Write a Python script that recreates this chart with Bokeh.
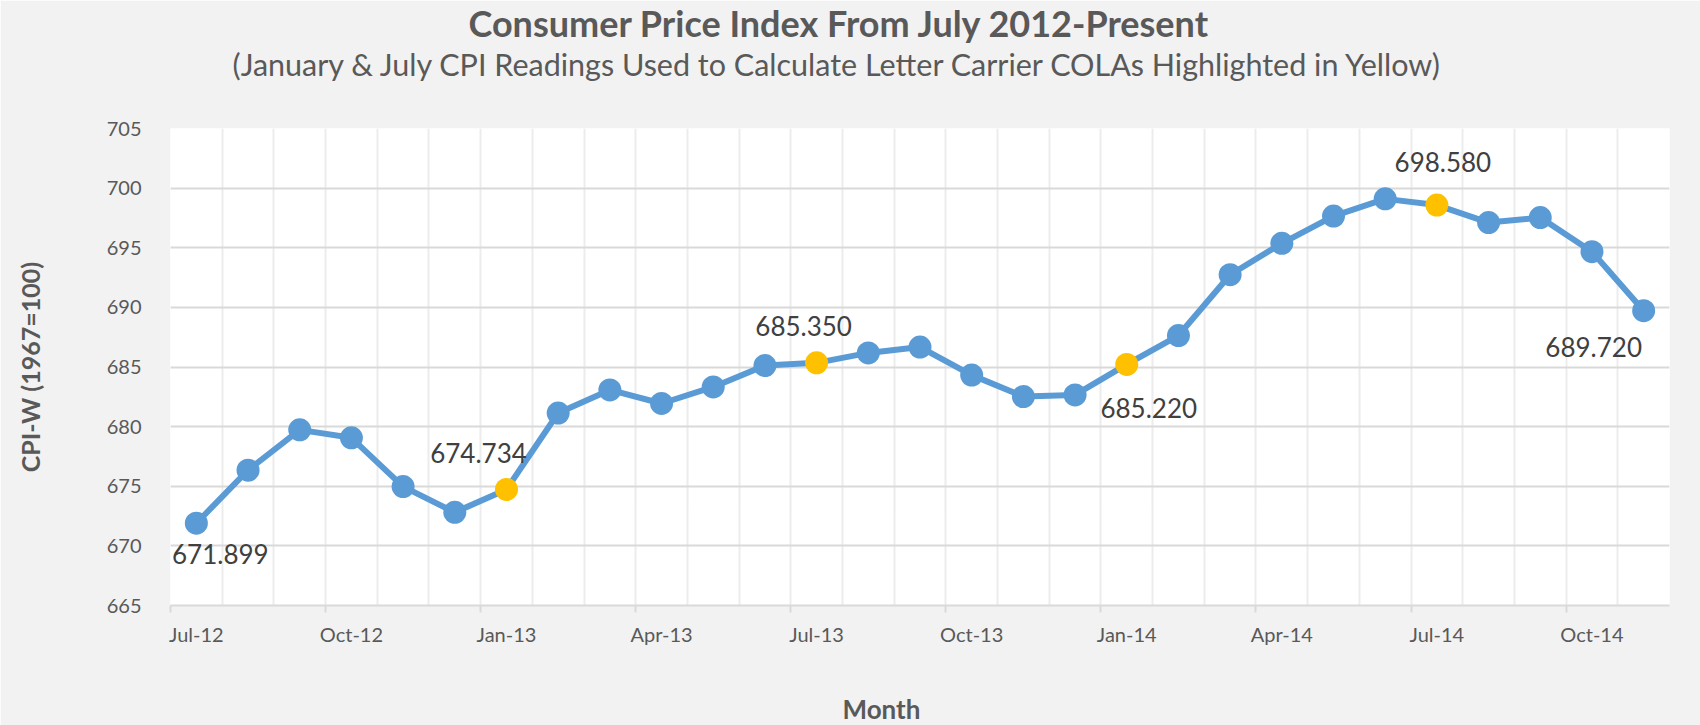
from bokeh.plotting import figure
from bokeh.models import ColumnDataSource, FixedTicker, Range1d, Title
from bokeh.core.properties import value
from bokeh.embed import file_html
from bokeh.resources import INLINE

# ---------------- data ----------------
months = ["Jul-12", "Aug-12", "Sep-12", "Oct-12", "Nov-12", "Dec-12",
          "Jan-13", "Feb-13", "Mar-13", "Apr-13", "May-13", "Jun-13",
          "Jul-13", "Aug-13", "Sep-13", "Oct-13", "Nov-13", "Dec-13",
          "Jan-14", "Feb-14", "Mar-14", "Apr-14", "May-14", "Jun-14",
          "Jul-14", "Aug-14", "Sep-14", "Oct-14", "Nov-14"]
cpi = [671.899, 676.35, 679.73, 679.06, 674.97, 672.81,
       674.734, 681.14, 683.08, 681.94, 683.33, 685.12,
       685.350, 686.18, 686.67, 684.32, 682.52, 682.66,
       685.220, 687.64, 692.74, 695.37, 697.66, 699.10,
       698.580, 697.11, 697.53, 694.67, 689.720]
tick_months = ["Jul-12", "Oct-12", "Jan-13", "Apr-13", "Jul-13",
               "Oct-13", "Jan-14", "Apr-14", "Jul-14", "Oct-14"]
y_ticks = [665, 670, 675, 680, 685, 690, 695, 700, 705]
highlight_months = ["Jan-13", "Jul-13", "Jan-14", "Jul-14"]
labeled_months = ["Jul-12", "Jan-13", "Jul-13", "Jan-14", "Jul-14", "Nov-14"]

title_text = "Consumer Price Index From July 2012-Present"
subtitle_text = "(January & July CPI Readings Used to Calculate Letter Carrier COLAs Highlighted in Yellow)"
y_title = "CPI-W (1967=100)"
x_title = "Month"

# ---------------- style ----------------
BLUE = "#5b9bd5"
YELLOW = "#ffc000"
GREY_TXT = "#595959"
LABEL_TXT = "#404040"
FONT = "Lato"
W, H = 1700, 725
ML, MR, MT, MB = 170, 31, 128, 115
# data-label offsets in screen pixels (dx right, dy down)
label_offsets = {"Jul-12": (24, 31), "Jan-13": (-28, -36), "Jul-13": (-13, -37),
                 "Jan-14": (22, 44), "Jul-14": (6, -43), "Nov-14": (-50, 36)}

n = len(months)
xc = [i + 0.5 for i in range(n)]
colors = [YELLOW if m in highlight_months else BLUE for m in months]

p = figure(width=W, height=H, output_backend="svg", toolbar_location=None,
           x_range=Range1d(0, n), y_range=Range1d(y_ticks[0], y_ticks[-1]),
           min_border_left=ML, min_border_right=MR, min_border_top=MT, min_border_bottom=MB,
           background_fill_color="white", border_fill_color="#f2f2f2",
           outline_line_color=None)

# titles above (added nearest-first): spacer, subtitle, title
p.add_layout(Title(text=" ", text_font_size="1px", standoff=42), "above")
p.add_layout(Title(text=subtitle_text, align="left", offset=62, standoff=3,
                   text_font=FONT, text_font_size="30.5px", text_font_style="normal",
                   text_color=GREY_TXT), "above")
title_kw = dict(text=title_text, align="left", offset=298,
                text_font=FONT, text_font_size="36px", text_font_style="bold",
                text_color=GREY_TXT)
try:
    main_title = Title(standoff=-4, **title_kw)
except Exception:
    main_title = Title(standoff=0, **title_kw)
p.add_layout(main_title, "above")

# x axis: labels centred in month, tick marks on month boundaries (minor ticks)
xa = p.xaxis[0]
xa.ticker = FixedTicker(ticks=[months.index(m) + 0.5 for m in tick_months],
                        minor_ticks=[months.index(m) for m in tick_months])
xa.major_label_overrides = {months.index(m) + 0.5: m for m in tick_months}
xa.major_tick_line_color = None
xa.major_tick_out = 6
xa.minor_tick_line_color = "#d9d9d9"
xa.minor_tick_line_width = 2
xa.minor_tick_in = 0
xa.minor_tick_out = 7
xa.axis_line_color = "#d9d9d9"
xa.axis_line_width = 2
xa.major_label_standoff = 9
xa.major_label_text_font = FONT
xa.major_label_text_font_size = "20px"
xa.major_label_text_color = GREY_TXT

# x-axis title below (spacer, then title)
p.add_layout(Title(text=" ", text_font_size="1px", standoff=38), "below")
p.add_layout(Title(text=x_title, align="left", offset=672, standoff=2,
                   text_font=FONT, text_font_size="26px", text_font_style="bold",
                   text_color=GREY_TXT), "below")

ya = p.yaxis[0]
ya.ticker = FixedTicker(ticks=y_ticks)
ya.major_tick_line_color = None
ya.minor_tick_line_color = None
ya.axis_line_color = None
ya.major_label_standoff = 23
ya.major_label_text_font = FONT
ya.major_label_text_font_size = "20px"
ya.major_label_text_color = GREY_TXT
ya.axis_label = y_title
ya.axis_label_standoff = 59
ya.axis_label_text_font = FONT
ya.axis_label_text_font_size = "25px"
ya.axis_label_text_font_style = "bold"
ya.axis_label_text_color = GREY_TXT

p.xgrid.ticker = FixedTicker(ticks=list(range(n + 1)))
p.xgrid.grid_line_color = "#ececec"
p.xgrid.grid_line_width = 2
p.ygrid.ticker = FixedTicker(ticks=y_ticks)
p.ygrid.grid_line_color = "#d9d9d9"
p.ygrid.grid_line_width = 2

# series
p.line(xc, cpi, line_color=BLUE, line_width=6)
p.scatter(xc, cpi, size=23, fill_color=colors, line_color=None)

lab_idx = [months.index(m) for m in labeled_months]
src = ColumnDataSource(dict(
    x=[xc[i] for i in lab_idx],
    y=[cpi[i] for i in lab_idx],
    text=[f"{cpi[i]:.3f}" for i in lab_idx],
    dx=[label_offsets[m][0] for m in labeled_months],
    dy=[label_offsets[m][1] for m in labeled_months],
))
p.text(x="x", y="y", text="text", x_offset="dx", y_offset="dy", source=src,
       text_font=value(FONT), text_font_size="26px", text_color=LABEL_TXT,
       text_align="center", text_baseline="middle")

open("out.html", "w").write(file_html(p, INLINE))
